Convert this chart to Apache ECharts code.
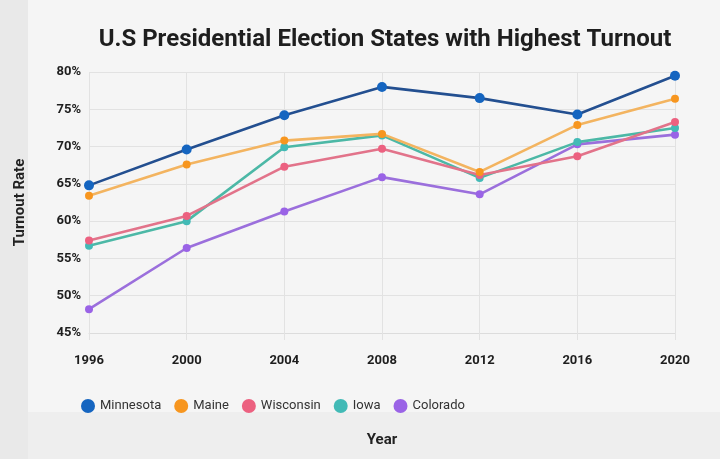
<!DOCTYPE html>
<html>
<head>
<meta charset="utf-8">
<script src="https://cdn.jsdelivr.net/npm/echarts@6/dist/echarts.min.js"></script>
<style>
  html, body { margin: 0; padding: 0; background: #f5f5f5; }
  #chart { width: 720px; height: 459px; }
</style>
</head>
<body>
<div id="chart"></div>
<script>
// election years on the x axis
var years = ['1996', '2000', '2004', '2008', '2012', '2016', '2020'];
var states = ['Minnesota', 'Maine', 'Wisconsin', 'Iowa', 'Colorado'];

// turnout in percent
var minnesota = [64.8, 69.6, 74.2, 78.0, 76.5, 74.3, 79.5];
var maine     = [63.4, 67.6, 70.8, 71.7, 66.6, 72.9, 76.4];
var wisconsin = [57.4, 60.7, 67.3, 69.7, 66.2, 68.7, 73.3];
var iowa      = [56.7, 60.0, 69.9, 71.5, 65.8, 70.6, 72.5];
var colorado  = [48.2, 56.4, 61.3, 65.9, 63.6, 70.3, 71.6];

var dotColors  = ['#1565c0', '#f7961f', '#ec6180', '#42bab6', '#9a63e6'];
var lineColors = ['#234f90', '#f3b460', '#e2738a', '#4cb8a6', '#9b6fdc'];

var chart = echarts.init(document.getElementById('chart'));

var seriesData = [minnesota, maine, wisconsin, iowa, colorado];
var series = [];
for (var i = 0; i < states.length; i++) {
    series.push({
        name: states[i],
        type: 'line',
        data: seriesData[i],
        symbol: 'circle',
        symbolSize: i === 0 ? 10 : 8,
        z: 10 - i,
        itemStyle: { color: dotColors[i] },
        lineStyle: { color: lineColors[i], width: 2.6 }
    });
}

var option = {
    backgroundColor: '#f5f5f5',
    graphic: [
        { type: 'rect', z: -10, shape: { x: 0, y: 0, width: 28, height: 459 }, style: { fill: '#e9e9e9' } },
        { type: 'rect', z: -10, shape: { x: 28, y: 412, width: 692, height: 47 }, style: { fill: '#eeeeee' } }
    ],
    title: {
        text: 'U.S Presidential Election States with Highest Turnout',
        left: 380,
        top: 23,
        textAlign: 'center',
        textStyle: { fontFamily: 'Roboto', fontSize: 24, fontWeight: 'bold', color: '#1e1e1e' }
    },
    legend: {
        data: states,
        left: 76,
        top: 394,
        icon: 'circle',
        itemWidth: 14,
        itemHeight: 14,
        itemGap: 13,
        textStyle: { fontFamily: 'Roboto', fontSize: 13, color: '#333' }
    },
    grid: { left: 89, right: 45, top: 72, bottom: 126 },
    xAxis: {
        type: 'category',
        data: years,
        boundaryGap: false,
        name: 'Year',
        nameLocation: 'middle',
        nameGap: 100,
        nameTextStyle: { fontFamily: 'Roboto', fontSize: 15, fontWeight: 'bold', color: '#222' },
        axisLine: { lineStyle: { color: '#dcdcdc' } },
        axisTick: { show: true, length: 7, lineStyle: { color: '#e2e2e2' } },
        axisLabel: { margin: 21, fontFamily: 'Roboto', fontSize: 13, fontWeight: 'bold', color: '#1e1e1e' },
        splitLine: { show: true, lineStyle: { color: '#e2e2e2' } }
    },
    yAxis: {
        type: 'value',
        min: 45,
        max: 80,
        interval: 5,
        name: 'Turnout Rate',
        nameLocation: 'middle',
        nameRotate: 90,
        nameGap: 61,
        nameTextStyle: { fontFamily: 'Roboto', fontSize: 15, fontWeight: 'bold', color: '#222' },
        axisLine: { show: false },
        axisTick: { show: false },
        axisLabel: { formatter: '{value}%', margin: 8, fontFamily: 'Roboto', fontSize: 13, fontWeight: 'bold', color: '#1e1e1e' },
        splitLine: { lineStyle: { color: '#e2e2e2' } }
    },
    series: series
};
chart.setOption(option);
</script>
</body>
</html>
